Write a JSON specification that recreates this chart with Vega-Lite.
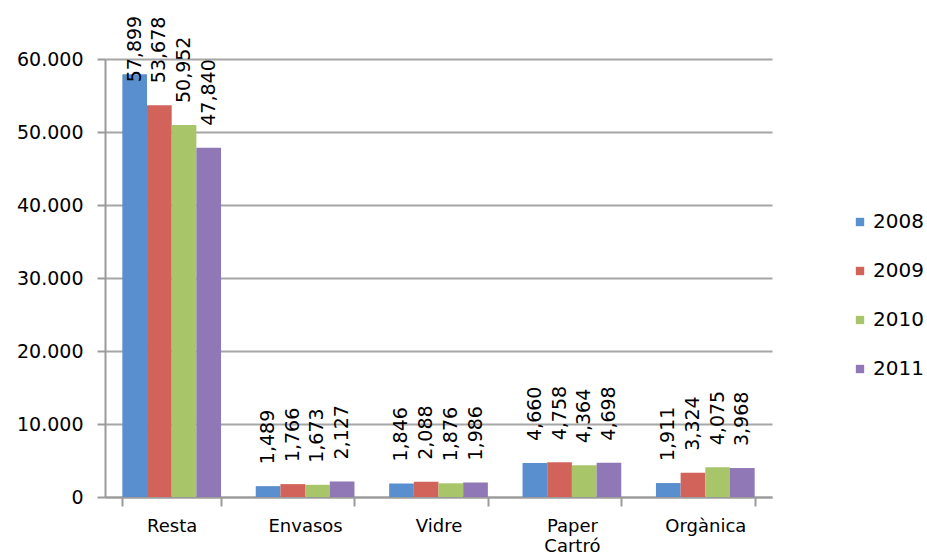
{
  "$schema": "https://vega.github.io/schema/vega-lite/v6.json",
  "width": 690,
  "height": 438,
  "autosize": {"type": "none"},
  "padding": {"left": 105, "top": 59, "right": 132, "bottom": 62},
  "background": "white",
  "config": {"view": {"stroke": null}},
  "data": {
    "values": [
      {"category": "Resta", "year": "2008", "value": 57899},
      {"category": "Resta", "year": "2009", "value": 53678},
      {"category": "Resta", "year": "2010", "value": 50952},
      {"category": "Resta", "year": "2011", "value": 47840},
      {"category": "Envasos", "year": "2008", "value": 1489},
      {"category": "Envasos", "year": "2009", "value": 1766},
      {"category": "Envasos", "year": "2010", "value": 1673},
      {"category": "Envasos", "year": "2011", "value": 2127},
      {"category": "Vidre", "year": "2008", "value": 1846},
      {"category": "Vidre", "year": "2009", "value": 2088},
      {"category": "Vidre", "year": "2010", "value": 1876},
      {"category": "Vidre", "year": "2011", "value": 1986},
      {"category": "Paper Cartró", "year": "2008", "value": 4660},
      {"category": "Paper Cartró", "year": "2009", "value": 4758},
      {"category": "Paper Cartró", "year": "2010", "value": 4364},
      {"category": "Paper Cartró", "year": "2011", "value": 4698},
      {"category": "Orgànica", "year": "2008", "value": 1911},
      {"category": "Orgànica", "year": "2009", "value": 3324},
      {"category": "Orgànica", "year": "2010", "value": 4075},
      {"category": "Orgànica", "year": "2011", "value": 3968}
    ]
  },
  "encoding": {
    "x": {
      "field": "category",
      "type": "nominal",
      "sort": ["Resta", "Envasos", "Vidre", "Paper Cartró", "Orgànica"],
      "scale": {"paddingInner": 0.26, "paddingOuter": 0.13, "range": [0, 667]},
      "axis": {
        "title": null,
        "labelAngle": 0,
        "labelFont": "DejaVu Sans",
        "labelFontSize": 18,
        "labelColor": "#000000",
        "labelPadding": 11,
        "labelExpr": "datum.value == 'Paper Cartró' ? ['Paper', 'Cartró'] : datum.value",
        "labelLineHeight": 20,
        "tickBand": "extent",
        "tickSize": 9,
        "tickColor": "#9a9a9a",
        "tickWidth": 2,
        "domainColor": "#9a9a9a",
        "domainWidth": 2,
        "grid": false
      }
    },
    "xOffset": {"field": "year", "type": "nominal"},
    "y": {
      "field": "value",
      "type": "quantitative",
      "scale": {"domain": [0, 60000]},
      "axis": {
        "title": null,
        "values": [0, 10000, 20000, 30000, 40000, 50000, 60000],
        "labelExpr": "replace(format(datum.value, ',d'), ',', '.')",
        "labelFont": "DejaVu Sans",
        "labelFontSize": 19,
        "labelColor": "#000000",
        "labelPadding": 14,
        "tickSize": 8,
        "tickColor": "#9a9a9a",
        "tickWidth": 2,
        "domainColor": "#9a9a9a",
        "domainWidth": 2,
        "grid": true,
        "gridColor": "#a6a6a6",
        "gridWidth": 2
      }
    }
  },
  "layer": [
    {
      "mark": {"type": "bar"},
      "encoding": {
        "color": {
          "field": "year",
          "type": "nominal",
          "scale": {
            "domain": ["2008", "2009", "2010", "2011"],
            "range": ["#5A8FCF", "#D2635A", "#A9C56A", "#8F78B5"]
          },
          "legend": {
            "title": null,
            "orient": "none",
            "legendX": 745,
            "legendY": 153,
            "symbolType": "square",
            "symbolSize": 70,
            "symbolStrokeWidth": 0,
            "labelFont": "DejaVu Sans",
            "labelFontSize": 20,
            "labelColor": "#000000",
            "labelOffset": 3,
            "rowPadding": 29
          }
        }
      }
    },
    {
      "mark": {
        "type": "text",
        "angle": 270,
        "align": "left",
        "baseline": "middle",
        "dx": {"expr": "datum.value > 55000 ? -8 : 22"},
        "font": "DejaVu Sans",
        "fontSize": 19,
        "color": "#000000"
      },
      "encoding": {"text": {"field": "value", "type": "quantitative", "format": ",d"}}
    }
  ]
}
